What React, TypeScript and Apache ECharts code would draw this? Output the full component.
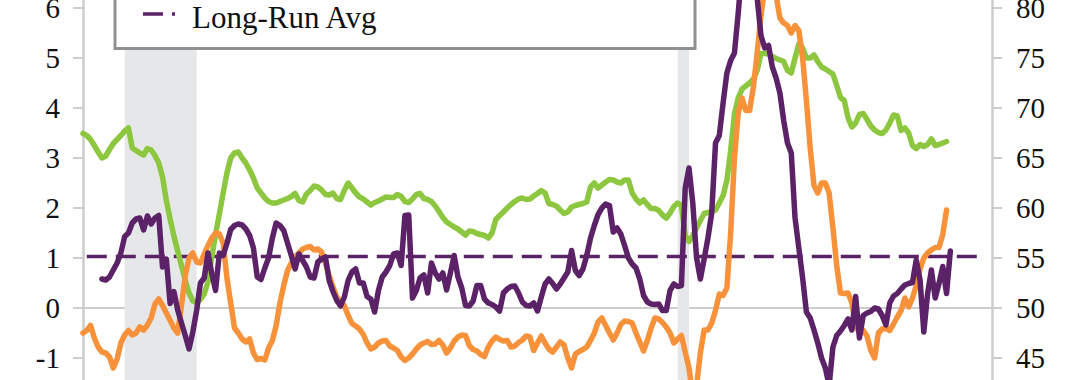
import React, { useEffect, useRef } from "react";
import * as echarts from "echarts";

// ---------- categories (monthly) ----------
const START_YEAR = 2007;
const MONTH_COUNT = 241; // 2007-01 .. 2027-01
const MONTHS: string[] = [];
for (let i = 0; i < MONTH_COUNT; i++) {
  const y = START_YEAR + Math.floor(i / 12);
  const m = (i % 12) + 1;
  MONTHS.push(`${y}-${String(m).padStart(2, "0")}`);
}

// ---------- series values ----------
const GREEN_START = "2007-01";
const GREEN: number[] = [
  3.49, 3.45, 3.37, 3.25, 3.12, 3.0, 3.04, 3.17, 3.29, 3.37,
  3.45, 3.54, 3.6, 3.2, 3.15, 3.1, 3.06, 3.19, 3.16, 3.05,
  2.9, 2.62, 2.15, 1.78, 1.44, 1.14, 0.85, 0.55, 0.3, 0.14,
  0.11, 0.17, 0.28, 0.52, 1.02, 1.47, 1.88, 2.3, 2.7, 3.0,
  3.1, 3.12, 3.0, 2.9, 2.76, 2.6, 2.4, 2.3, 2.2, 2.13,
  2.1, 2.1, 2.13, 2.16, 2.19, 2.23, 2.29, 2.15, 2.12, 2.28,
  2.35, 2.44, 2.42, 2.36, 2.27, 2.26, 2.3, 2.19, 2.17, 2.35,
  2.5, 2.4, 2.3, 2.22, 2.18, 2.12, 2.06, 2.11, 2.14, 2.18,
  2.22, 2.21, 2.21, 2.27, 2.23, 2.13, 2.11, 2.18, 2.27, 2.29,
  2.19, 2.17, 2.13, 2.04, 1.93, 1.81, 1.72, 1.67, 1.62, 1.58,
  1.52, 1.46, 1.54, 1.53, 1.49, 1.47, 1.45, 1.4, 1.5, 1.77,
  1.85, 1.92, 2.0, 2.07, 2.13, 2.18, 2.2, 2.17, 2.18, 2.24,
  2.29, 2.35, 2.3, 2.09, 2.07, 2.04, 1.96, 1.89, 1.92, 2.02,
  2.05, 2.07, 2.09, 2.12, 2.42, 2.5, 2.4, 2.46, 2.52, 2.57,
  2.56, 2.52, 2.5, 2.56, 2.56, 2.3, 2.18, 2.1, 2.16, 2.07,
  1.99, 1.99, 1.95, 1.86, 1.8, 1.9, 2.03, 2.1, 2.05, 1.45,
  1.33, 1.45, 1.6, 1.75, 1.89, 1.91, 1.93, 1.96, 2.1, 2.25,
  2.55, 3.15, 3.88, 4.2, 4.38, 4.44, 4.5, 4.58, 4.75, 5.09,
  5.09, 5.08, 5.03, 4.99, 4.96, 4.93, 4.75, 4.7, 5.0, 5.28,
  5.2, 5.0, 5.0, 5.06, 4.93, 4.82, 4.78, 4.73, 4.68, 4.45,
  4.21, 4.15, 3.8, 3.62, 3.7, 3.87, 3.89, 3.77, 3.64, 3.56,
  3.51, 3.49, 3.56, 3.7, 3.86, 3.84, 3.55, 3.6, 3.5, 3.25,
  3.19, 3.27, 3.23, 3.27, 3.38, 3.25, 3.27, 3.3, 3.33,
];

const ORANGE_START = "2007-01";
const ORANGE: number[] = [
  -0.5, -0.45, -0.35, -0.6, -0.78, -0.88, -0.9, -0.98, -1.2, -1.02,
  -0.7, -0.54, -0.45, -0.54, -0.5, -0.38, -0.44, -0.34, -0.2, 0.08,
  0.18, 0.05, -0.1, -0.25, -0.4, -0.5, 0.05, 0.65, 1.0, 1.1,
  0.92, 0.9, 1.08, 1.25, 1.4, 1.5, 1.48, 1.3, 0.6, 0.1,
  -0.4, -0.5, -0.62, -0.68, -0.62, -0.9, -1.03, -1.01, -1.04, -0.8,
  -0.65, -0.35, 0.1, 0.45, 0.75, 0.9, 1.02, 1.1, 1.18, 1.21,
  1.23, 1.16, 1.18, 1.12, 0.9, 0.65, 0.42, 0.22, 0.12, 0.05,
  -0.15, -0.31, -0.36, -0.42, -0.53, -0.7, -0.82, -0.78, -0.7, -0.66,
  -0.65, -0.76, -0.8, -0.85, -0.98, -1.05, -1.0, -0.92, -0.82, -0.74,
  -0.7, -0.67, -0.73, -0.72, -0.65, -0.74, -0.9, -0.8, -0.66, -0.58,
  -0.54, -0.55, -0.75, -0.83, -0.86, -0.93, -0.97, -0.78, -0.66, -0.58,
  -0.63, -0.66, -0.65, -0.78, -0.76, -0.69, -0.64, -0.56, -0.58, -0.85,
  -0.7, -0.56, -0.7, -0.82, -0.88, -0.78, -0.68, -0.74, -1.0, -1.2,
  -0.92, -0.87, -0.83, -0.78, -0.65, -0.5, -0.28, -0.2, -0.35, -0.5,
  -0.64, -0.5, -0.33, -0.26, -0.27, -0.3, -0.5, -0.68, -0.86, -0.65,
  -0.4, -0.2, -0.22, -0.29, -0.38, -0.5, -0.7, -0.62, -0.55, -0.88,
  -1.2, -1.75, -1.55, -0.9, -0.44, -0.44, -0.3, -0.05, 0.28, 0.25,
  0.4, 1.5, 3.0, 3.9, 4.2, 3.95, 3.95, 4.42, 5.1, 5.85,
  6.4, 6.6, 6.5, 6.25, 5.8, 5.7, 5.65, 5.5, 5.65, 5.55,
  5.0, 4.15, 3.2, 2.45, 2.3, 2.5, 2.5, 2.3, 1.6, 0.85,
  0.3, 0.29, 0.3, 0.1, -0.35, -0.5, -0.45, -0.56, -0.85, -1.0,
  -0.5, -0.42, -0.41, -0.45, -0.32, -0.18, -0.05, 0.2, 0.02, 0.2,
  0.45, 0.78, 1.0, 1.1, 1.16, 1.21, 1.21, 1.47, 1.96,
];

const PURPLE_START = "2007-06";
const PURPLE: number[] = [
  0.58, 0.56, 0.62, 0.76, 0.9,
  1.1, 1.43, 1.5, 1.7, 1.78, 1.8, 1.56, 1.84, 1.68, 1.8,
  1.85, 0.82, 0.98, 0.09, 0.33, -0.04, -0.3, -0.55, -0.82, -0.48,
  -0.05, 0.5, 0.6, 1.1, 0.69, 0.35, 1.1, 1.05, 1.29, 1.57,
  1.65, 1.68, 1.66, 1.58, 1.45, 1.2, 0.62, 0.57, 0.8, 1.0,
  1.4, 1.7, 1.65, 1.55, 1.3, 1.05, 0.78, 1.08, 0.95, 0.82,
  0.62, 0.6, 0.92, 0.98, 1.02, 0.55, 0.33, 0.15, 0.04, 0.22,
  0.55, 0.72, 0.78, 0.5, 0.5, 0.23, 0.18, -0.08, 0.35, 0.62,
  0.72, 0.85, 1.08, 1.1, 0.85, 1.85, 1.86, 0.2, 0.35, 0.6,
  0.66, 0.3, 0.9, 0.7, 0.58, 0.7, 0.36, 0.7, 1.05, 0.62,
  0.4, 0.05, 0.04, 0.14, 0.45, 0.45, 0.18, 0.1, 0.07, 0.02,
  -0.06, 0.3, 0.38, 0.43, 0.44, 0.3, 0.12, 0.05, 0.04, 0.1,
  -0.06, 0.22, 0.48, 0.58, 0.49, 0.38, 0.48, 0.6, 0.72, 1.15,
  0.75, 0.65, 0.78, 1.05, 1.4, 1.65, 1.87, 2.0, 2.08, 2.05,
  1.52, 1.6, 1.48, 1.25, 1.0, 0.88, 0.8, 0.58, 0.25, 0.12,
  0.08, 0.07, 0.08, -0.05, -0.05, 0.35, 0.48, 0.43, 0.45, 2.4,
  2.8, 2.1, 1.0, 0.58, 0.98, 1.4, 1.9, 3.3, 3.45, 4.1,
  4.7, 4.95, 5.1, 5.9, 6.85, 6.9, 6.75, 6.5, 6.2, 5.45,
  5.2, 5.25, 4.82, 4.6, 4.3, 3.75, 3.3, 3.1, 1.8, 1.2,
  0.6, -0.08, -0.2, -0.44, -0.7, -1.0, -1.2, -1.55, -0.78, -0.55,
  -0.46, -0.35, -0.22, -0.44, 0.23, -0.6, -0.15, -0.1, -0.07, 0.0,
  -0.02, -0.15, -0.34, 0.1, 0.24, 0.29, 0.38, 0.46, 0.49, 0.51,
  0.96, 0.56, -0.48, 0.29, 0.76, 0.2, 0.49, 0.83, 0.29, 1.14,
];

const LONG_RUN_AVG = 1.03;
const AVG_START = "2007-02";
const AVG_END = "2026-10";

const RECESSIONS: [string, string][] = [
  ["2007-12", "2009-07"],
  ["2020-02", "2020-05"],
];

const LEFT_MIN = -2;
const LEFT_MAX = 7;
const LEFT_SHOWN = [-1, 6]; // tick labels within the visible crop
const RIGHT_MIN = 40;
const RIGHT_MAX = 85;
const RIGHT_SHOWN = [45, 80];

const LEGEND_LABEL = "Long-Run Avg";

// ---------- helpers ----------
function align(start: string, values: number[]): (number | null)[] {
  const s = MONTHS.indexOf(start);
  return MONTHS.map((_, i) => {
    const k = i - s;
    return k >= 0 && k < values.length ? values[k] : null;
  });
}

function constantBetween(start: string, end: string, v: number): (number | null)[] {
  const s = MONTHS.indexOf(start);
  const e = MONTHS.indexOf(end);
  return MONTHS.map((_, i) => (i >= s && i <= e ? v : null));
}

const GREEN_C = "#8DC63F";
const ORANGE_C = "#F7923A";
const PURPLE_C = "#5C2268";
const AXIS_C = "#CDCDCD";
const SHADE_C = "#E6E7E9";
const FONT = "'Liberation Serif', 'Times New Roman', serif";

const OFFSET_TOP = 60; // chart div shifted up (reference is a crop)

export default function App() {
  const ref = useRef<HTMLDivElement>(null);

  useEffect(() => {
    if (!ref.current) return;
    const chart = echarts.init(ref.current, undefined, { renderer: "svg" });

    const lineStyle = (color: string) => ({
      color,
      width: 5.5,
      cap: "round" as const,
      join: "round" as const,
    });

    const option: any = {
      animation: false,
      grid: { left: 83, right: 88, top: 18, bottom: 32, containLabel: false },
      xAxis: {
        type: "category",
        data: MONTHS,
        boundaryGap: false,
        axisLine: { show: true, onZero: true, lineStyle: { color: AXIS_C, width: 2 } },
        axisTick: { show: false },
        axisLabel: { show: false },
        splitLine: { show: false },
      },
      yAxis: [
        {
          type: "value",
          position: "left",
          min: LEFT_MIN,
          max: LEFT_MAX,
          interval: 1,
          axisLine: { show: true, onZero: false, lineStyle: { color: AXIS_C, width: 2.5 } },
          axisTick: { show: true, length: 10, lineStyle: { color: AXIS_C, width: 2 } },
          axisLabel: {
            margin: 23,
            fontFamily: FONT,
            fontSize: 29,
            color: "#111",
            formatter: (v: number) => (v < LEFT_SHOWN[0] || v > LEFT_SHOWN[1] ? "" : String(v)),
          },
          splitLine: { show: false },
        },
        {
          type: "value",
          position: "right",
          min: RIGHT_MIN,
          max: RIGHT_MAX,
          interval: 5,
          axisLine: { show: true, onZero: false, lineStyle: { color: AXIS_C, width: 2.5 } },
          axisTick: { show: true, length: 10, lineStyle: { color: AXIS_C, width: 2 } },
          axisLabel: {
            margin: 24,
            fontFamily: FONT,
            fontSize: 29,
            color: "#111",
            formatter: (v: number) => (v < RIGHT_SHOWN[0] || v > RIGHT_SHOWN[1] ? "" : String(v)),
          },
          splitLine: { show: false },
        },
      ],
      series: [
        {
          name: "Recession",
          type: "line",
          data: [],
          z: 1,
          silent: true,
          markArea: {
            silent: true,
            itemStyle: { color: SHADE_C },
            data: RECESSIONS.map(([a, b]) => [{ xAxis: a }, { xAxis: b }]),
          },
        },
        {
          name: LEGEND_LABEL,
          type: "line",
          data: constantBetween(AVG_START, AVG_END, LONG_RUN_AVG),
          symbol: "none",
          z: 2,
          lineStyle: { color: PURPLE_C, width: 3.5, type: [20, 9] },
        },
        {
          name: "Green",
          type: "line",
          data: align(GREEN_START, GREEN),
          symbol: "none",
          z: 3,
          lineStyle: lineStyle(GREEN_C),
        },
        {
          name: "Orange",
          type: "line",
          data: align(ORANGE_START, ORANGE),
          symbol: "none",
          z: 4,
          lineStyle: lineStyle(ORANGE_C),
        },
        {
          name: "Purple",
          type: "line",
          data: align(PURPLE_START, PURPLE),
          symbol: "none",
          z: 5,
          lineStyle: lineStyle(PURPLE_C),
        },
      ],
      graphic: [
        {
          type: "rect",
          z: 100,
          shape: { x: 115, y: -20, width: 580, height: 128.5 },
          style: { fill: "#ffffff", stroke: "#8E9190", lineWidth: 3 },
        },
        {
          type: "line",
          z: 101,
          shape: { x1: 143, y1: 74, x2: 175, y2: 74 },
          style: { stroke: PURPLE_C, lineWidth: 3.5, lineDash: [20, 9] },
        },
        {
          type: "text",
          z: 101,
          x: 192,
          y: 77.5,
          style: {
            text: LEGEND_LABEL,
            fontFamily: FONT,
            fontSize: 31,
            fill: "#111",
            verticalAlign: "middle",
            align: "left",
          },
        },
      ],
    };

    chart.setOption(option);
    return () => chart.dispose();
  }, []);

  return (
    <div
      style={{
        position: "fixed",
        left: 0,
        top: 0,
        width: 1080,
        height: 380,
        overflow: "hidden",
        background: "#fff",
      }}
    >
      <div
        ref={ref}
        style={{ position: "absolute", left: 0, top: -OFFSET_TOP, width: 1080, height: 500 }}
      />
    </div>
  );
}
